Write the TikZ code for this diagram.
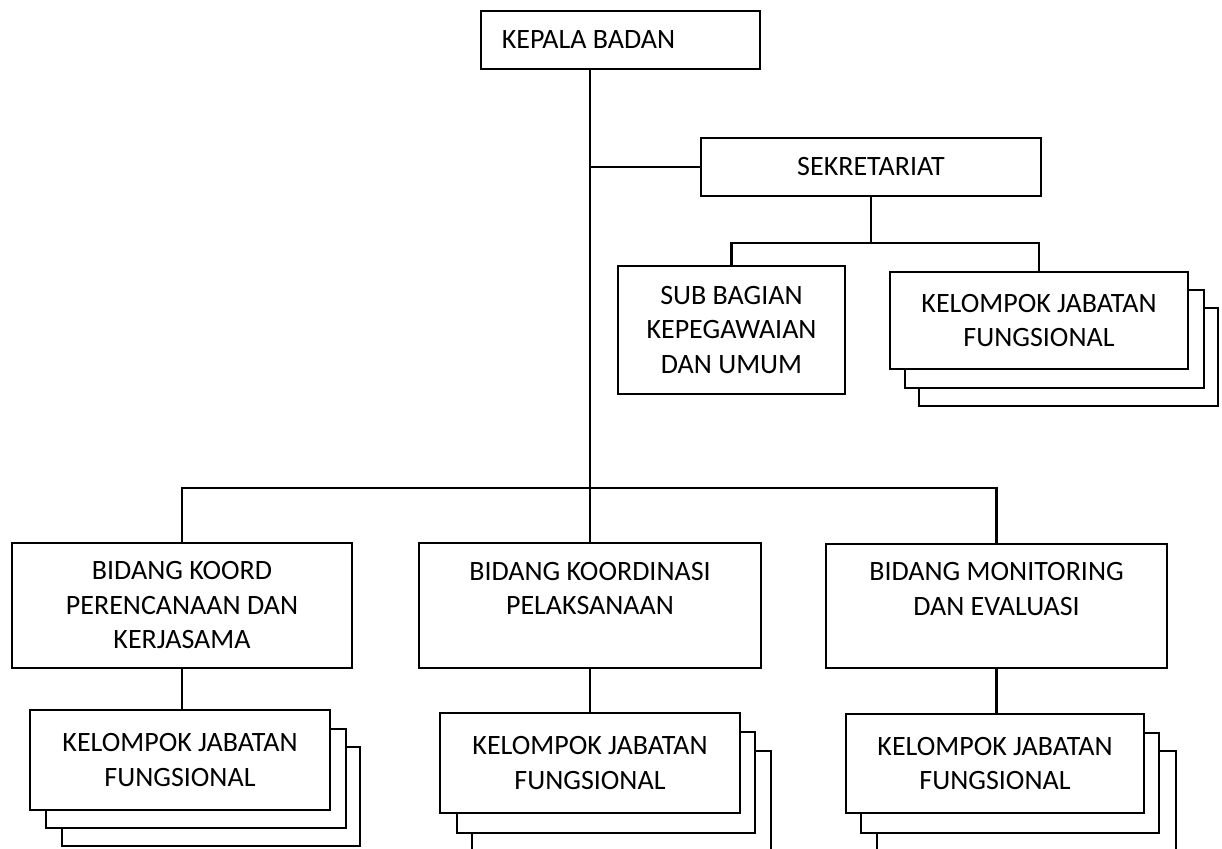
\documentclass[tikz,border=0pt]{standalone}
\usepackage{fontspec}
\setmainfont{Carlito}
\newcommand\boxnode[6]{%
  \node[box, minimum width={(#4)-(#2)}, minimum height={(#5)-(#3)}] (#1)
    at ({((#2)+(#4))/2},{((#3)+(#5))/2}) {#6};}
\begin{document}
\begin{tikzpicture}[x=1pt,y=-1pt,
  box/.style={draw, fill=white, rectangle, inner sep=0pt, line width=2.6pt,
    align=center, font=\fontsize{28}{34.5}\selectfont},
  link/.style={draw, line width=2.6pt},
  lbl/.style={inner sep=0pt, font=\fontsize{28}{34.5}\selectfont}]
\fill[white] (0,0) rectangle (1222,848);
\clip (0,0) rectangle (1222,848);
% top
\boxnode{kb}{481}{11}{760}{69}{}
\node[lbl] (kbt) at (588.5,40) {KEPALA BADAN};
\boxnode{sek}{701}{138}{1041}{196}{SEKRETARIAT}
\boxnode{sb}{618}{266}{845}{394}{SUB BAGIAN\\KEPEGAWAIAN\\DAN UMUM}
\boxnode{ks3}{919}{308}{1218}{406}{}
\boxnode{ks2}{905}{290}{1204}{388}{}
\boxnode{ks}{890}{272}{1188}{369}{KELOMPOK JABATAN\\FUNGSIONAL}
% bidang
\boxnode{bl}{12}{543}{352}{668}{BIDANG KOORD\\PERENCANAAN DAN\\KERJASAMA}
\boxnode{bm}{419}{543}{761}{668}{BIDANG KOORDINASI\\PELAKSANAAN\\\mbox{}}
\boxnode{br}{826}{544}{1167}{668}{BIDANG MONITORING\\DAN EVALUASI\\\mbox{}}
% kelompok stacks
\boxnode{kl3}{62}{747}{360}{846}{}
\boxnode{kl2}{46}{729}{346}{828}{}
\boxnode{kl}{30}{710}{330}{810}{KELOMPOK JABATAN\\FUNGSIONAL}
\boxnode{km3}{472}{751}{771}{856}{}
\boxnode{km2}{457}{732}{755}{833}{}
\boxnode{km}{440}{713}{740}{813}{KELOMPOK JABATAN\\FUNGSIONAL}
\boxnode{kr3}{877}{751}{1176}{856}{}
\boxnode{kr2}{861}{733}{1159}{833}{}
\boxnode{kr}{846}{714}{1144}{813}{KELOMPOK JABATAN\\FUNGSIONAL}
% connectors
\coordinate (j1) at (590,488);
\coordinate (sh) at (0,243);
\path[link] (kb.south -| j1) -- (j1);
\path[link] (j1 |- sek.west) -- (sek.west);
\path[link] (sek.south) -- (sek.south |- sh);
\path[link] (sb.north) -- (sb.north |- sh) -| (ks.north);
\path[link] (bl.north) -- (bl.north |- j1) -| (br.north);
\path[link] (j1) -- (bm.north);
\path[link] (bl.south) -- (bl.south |- kl.north);
\path[link] (bm.south) -- (bm.south |- km.north);
\path[link] (br.south) -- (br.south |- kr.north);
\end{tikzpicture}
\end{document}
